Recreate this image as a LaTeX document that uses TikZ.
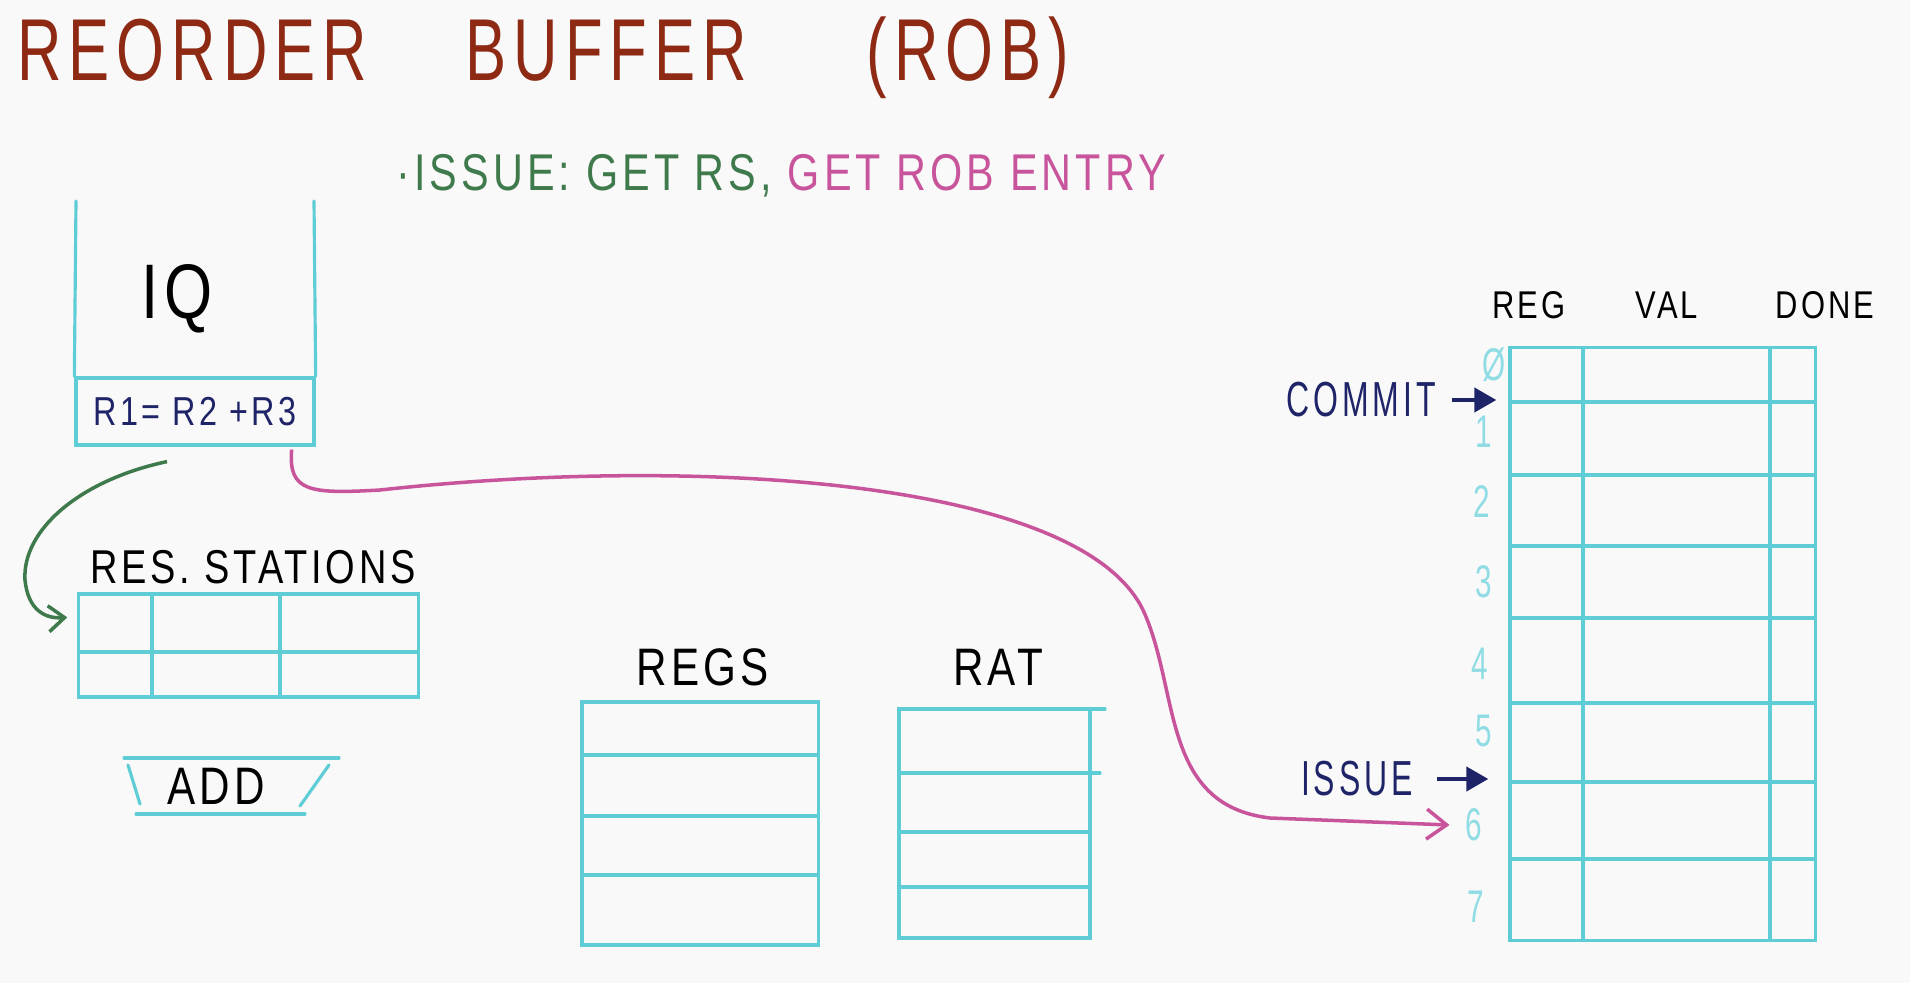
\documentclass[tikz,border=0pt]{standalone}
\usepackage{fontspec}
\usepackage{tikz}
\usetikzlibrary{arrows.meta,calc}
\newfontfamily\handfont[FakeStretch=0.8,LetterSpace=8]{Liberation Sans}
\newfontfamily\titlefont[FakeStretch=0.7,LetterSpace=8]{Liberation Sans}
\newfontfamily\narrowfont[FakeStretch=0.65,LetterSpace=8]{Liberation Sans}
\definecolor{robred}{HTML}{8E2A14}
\definecolor{robgreen}{HTML}{3F7A4C}
\definecolor{robpink}{HTML}{C8559C}
\definecolor{robnavy}{HTML}{1F2468}
\definecolor{robcyan}{HTML}{5FCDD6}
\definecolor{robcyanl}{HTML}{8FDCE4}
\definecolor{robpaper}{HTML}{F9F9F9}
\tikzset{
  hand/.style      = {font=\handfont, inner sep=1pt, text=black},
  headtxt/.style   = {hand, text=robred, anchor=west,
                      font=\titlefont\fontsize{25}{29}\selectfont},
  subtxt/.style    = {hand, anchor=west, font=\handfont\fontsize{14.7}{17}\selectfont},
  bigtxt/.style    = {hand, font=\handfont\fontsize{22}{26}\selectfont},
  lbl/.style       = {hand, font=\handfont\fontsize{15}{18}\selectfont},
  rslbl/.style     = {hand, font=\handfont\fontsize{13.5}{16}\selectfont},
  hdr/.style       = {hand, font=\handfont\fontsize{11}{13}\selectfont},
  ptrtxt/.style    = {hand, text=robnavy, font=\narrowfont\fontsize{14}{16}\selectfont},
  idx/.style       = {hand, text=robcyanl, font=\narrowfont\fontsize{13}{15}\selectfont},
  %
  tblbox/.style    = {draw=robcyan, line width=0.9pt, inner sep=0pt},
  tblline/.style   = {draw=robcyan, line width=0.9pt, line cap=round},
  instr/.style     = {tblbox, text=robnavy, font=\handfont\fontsize{11.5}{13}\selectfont},
  %
  rsflow/.style    = {-{Straight Barb[length=1.6mm,width=2.6mm]}, draw=robgreen,
                      line width=1pt},
  robflow/.style   = {-{Straight Barb[length=2mm,width=3mm]}, draw=robpink,
                      line width=1pt},
  ptr/.style       = {-{Triangle[length=2.2mm,width=2.4mm]}, draw=robnavy,
                      line width=1.2pt},
}
\begin{document}
\begin{tikzpicture}[x=0.01cm, y=-0.01cm]

  \fill[robpaper] (0,0) rectangle (1910,983);
  \useasboundingbox (0,0) rectangle (1910,983);

  % ---------- heading ---------------------------------------------------
  \node[headtxt] (head) at (13,58)
    {REORDER\hspace{28pt}BUFFER\hspace{34pt}(ROB)};
  \node[subtxt] (step) at (392,176)
    {\textcolor{robgreen}{·ISSUE: GET RS,} \textcolor{robpink}{GET ROB ENTRY}};

  % ---------- instruction queue -----------------------------------------
  \node[instr, minimum width=2.38cm, minimum height=0.67cm] (inst)
    at (195,411.5) {R1= R2 +R3};
  \draw[tblline] (inst.north west) -- (76,201);
  \draw[tblline] (inst.north east) -- (314,201);
  \node[bigtxt] (iq) at (177,299) {IQ};

  % ---------- reservation stations and adder ----------------------------
  \node[rslbl] (rslabel) at (253,567) {RES. STATIONS};
  \node[tblbox, minimum width=3.39cm, minimum height=1.03cm] (rs)
    at (248.5,645.5) {};
  \draw[tblline] (79,652) -- (418,652);
  \foreach \x in {152,280}
    \draw[tblline] (\x,594) -- (\x,697);

  \node[lbl] (alu) at (216,786) {ADD};
  \draw[tblline] (124,758) -- (339,758);
  \draw[tblline] (136,814) -- (305,814);
  \draw[tblline] (128,765) -- (140,804);
  \draw[tblline] (329,765) -- (300,806);

  % ---------- register file and RAT -------------------------------------
  \node[lbl] (regslabel) at (703,667) {REGS};
  \node[tblbox, minimum width=2.36cm, minimum height=2.43cm] (regs)
    at (700,823.5) {};
  \foreach \y in {755,816,875}
    \draw[tblline] (582,\y) -- (818,\y);

  \node[lbl] (ratlabel) at (998,667) {RAT};
  \node[tblbox, minimum width=1.91cm, minimum height=2.29cm] (rat)
    at (994.5,823.5) {};
  \foreach \y in {773,832,887}
    \draw[tblline] (899,\y) -- (1090,\y);
  \draw[tblline] (1090,709) -- (1105,709);
  \draw[tblline] (1090,773) -- (1100,773);

  % ---------- reorder buffer --------------------------------------------
  \node[tblbox, minimum width=3.05cm, minimum height=5.92cm] (rob)
    at (1662.5,644) {};
  \foreach \y in {402,475,546,618,703,782,859}
    \draw[tblline] (1510,\y) -- (1815,\y);
  \foreach \x in {1583,1770}
    \draw[tblline] (\x,348) -- (\x,940);

  \node[hdr] (hreg)  at (1529,305) {REG};
  \node[hdr] (hval)  at (1667,305) {VAL};
  \node[hdr] (hdone) at (1825,305) {DONE};

  \foreach \lab/\x/\y [count=\i from 0] in {Ø/1494/365, 1/1484/432,
      2/1482/502, 3/1484/582, 4/1480/664, 5/1484/731, 6/1474/825, 7/1476/907}
    \node[idx] (n\i) at (\x,\y) {\lab};

  % ---------- pointers --------------------------------------------------
  \node[ptrtxt] (commit) at (1361,400) {COMMIT};
  \draw[ptr, shorten <=1.2mm, shorten >=1.2mm] (commit.east)
    -- (rob.west |- commit.east);
  \node[ptrtxt] (issue) at (1357,779) {ISSUE};
  \draw[ptr, shorten <=2mm, shorten >=2mm] (issue.east)
    -- (rob.west |- issue.east);

  % ---------- issue: RS entry and ROB entry -----------------------------
  \draw[rsflow] ($(inst.south)+(-28,15)$)
    .. controls (80,480) and (22,530) .. (25,580)
    .. controls (28,610) and (45,619) .. ($(rs.north west)+(-10,25)$);
  \draw[robflow] ($(inst.south east)+(-24,3)$)
    .. controls (288,492) and (310,494) .. (380,490)
    .. controls (700,455) and (1080,480) .. (1143,610)
    .. controls (1180,690) and (1160,805) .. (1270,818)
    -- ([xshift=-0.12cm]n6.west);

\end{tikzpicture}
\end{document}
